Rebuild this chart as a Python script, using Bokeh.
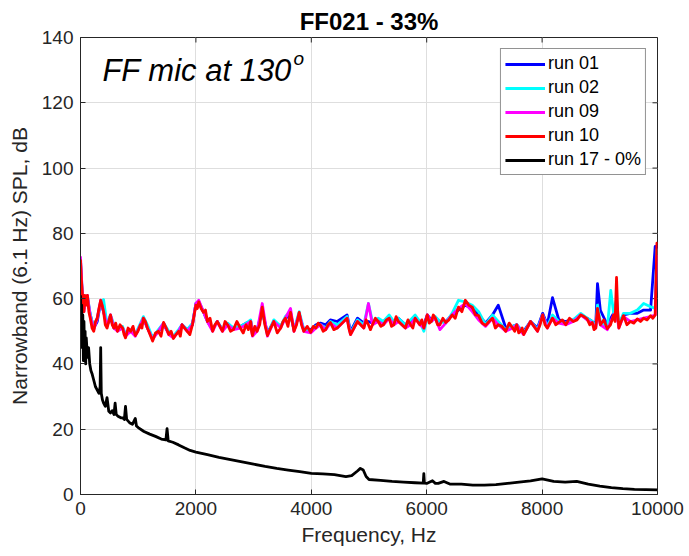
import math
from bokeh.plotting import figure
from bokeh.models import FixedTicker, Label, Range1d
from bokeh.embed import file_html
from bokeh.resources import INLINE

# ---------------- data ----------------
x_min, x_max = 0, 10000
y_min, y_max = 0, 140
x_ticks = [0, 2000, 4000, 6000, 8000, 10000]
y_ticks = [0, 20, 40, 60, 80, 100, 120, 140]

freq_runs = [
    0, 30, 60, 90, 120, 170, 230, 290, 350, 400,
    460, 520, 580, 640, 730, 780, 870, 950, 1040, 1090,
    1160, 1250, 1350, 1440, 1530, 1610, 1700, 1760, 1850, 1940,
    2000, 2050, 2130, 2200, 2290, 2370, 2460, 2550, 2650, 2770,
    2870, 2950, 2980, 3060, 3150, 3240, 3350, 3470, 3550, 3640,
    3700, 3790, 3870, 3990, 4080, 4160, 4250, 4330, 4450, 4620,
    4680, 4800, 4910, 4990, 5060, 5160, 5250, 5350, 5430, 5510,
    5630, 5720, 5800, 5880, 5950, 6010, 6080, 6150, 6230, 6330,
    6440, 6550, 6670, 6790, 6900, 7020, 7140, 7240, 7370, 7490,
    7560, 7630, 7680, 7800, 7920, 8010, 8090, 8180, 8290, 8410,
    8540, 8670, 8780, 8870, 8930, 8960, 9010, 9130, 9190, 9240,
    9290, 9330, 9410, 9530, 9650, 9760, 9880, 9960, 9990, 10000]

spl_run01 = [
    71, 61, 57, 59, 60, 55, 51, 53, 59, 56,
    52, 54, 51, 50.5, 51, 49, 50, 49, 52, 54,
    51, 48, 50, 52, 49.5, 48.5, 50, 52, 50.5, 52,
    58.5, 59, 56, 53, 50.5, 53, 50.5, 52, 51, 51.5,
    52.5, 53, 49.5, 50.5, 56, 49.5, 53, 51.5, 54, 55,
    50.5, 55, 50.5, 50.5, 52, 52.5, 52, 53.5, 53, 55,
    50, 54, 52.5, 53, 52.5, 53, 53, 54.5, 53, 54,
    52, 53, 54.5, 53, 52, 55, 53.5, 54, 53, 53,
    55, 56.5, 58, 57, 55, 52.5, 55, 58, 51, 51.5,
    52, 50.5, 50, 53, 51, 55.5, 52, 60.3, 53.5, 53,
    53.5, 55, 54, 53, 52, 64.6, 56.4, 52, 54, 55.5,
    56, 52, 55, 55.5, 55.5, 56.5, 56.5, 76, 76, 75]

spl_run02 = [
    72, 62, 57, 60, 61, 55, 51, 54, 59, 59.7,
    52, 55, 52, 51, 51.5, 49, 50.5, 49, 52.5, 54.5,
    52, 48, 50.5, 52.5, 50, 48.5, 50.5, 52, 50.5, 52.5,
    58.5, 59, 56, 53.5, 50.5, 53, 50.5, 52.5, 51, 51.5,
    52.5, 53.5, 49, 50.5, 56.5, 49, 53.5, 51.5, 54.5, 56,
    50.5, 56, 50.5, 50, 51.5, 52, 51, 53, 52, 54.5,
    49.5, 53.5, 52, 58.5, 53, 54, 53, 55, 53, 54,
    52, 53.5, 55, 53, 50, 54, 53, 54.5, 53, 52.5,
    55.5, 59.5, 59, 58, 56, 52, 55, 53, 50.5, 51.5,
    52, 50.5, 49.5, 53, 50.5, 55, 51.5, 55, 53, 52.5,
    53.5, 55.5, 54, 53, 51.5, 58, 53, 51, 62.5, 55.5,
    60, 52, 55.5, 55.5, 56.5, 58.5, 57.5, 57, 75, 74]

spl_run09 = [
    73, 62, 56, 60, 61, 54.5, 50.5, 54, 59.5, 56,
    51.5, 55, 51, 50, 51, 48.5, 50, 48.5, 52, 54,
    51, 47.5, 50, 52.5, 49, 48, 50, 52, 50, 52,
    58.5, 59.5, 56, 53, 50, 53, 50, 52, 50.5, 51,
    52, 53, 48.5, 50, 58.5, 48.5, 53, 51, 54, 57,
    50, 55.5, 50, 49.5, 51, 52, 50.5, 52.5, 51, 54,
    49, 53, 51, 58.5, 52, 53, 52, 54, 52, 53,
    51, 52, 54, 52, 51, 55, 53, 54, 50.5, 52.5,
    55, 57, 58.5, 56, 53.5, 51.5, 54, 52, 50, 51,
    52, 50, 49, 53, 50, 55, 51, 54, 52.5, 52,
    53, 55, 53.5, 52.5, 51, 56, 52, 50.5, 53, 55,
    56, 51, 54.5, 53, 53.5, 54, 54.5, 55, 73, 72]

freq_run10 = [
    0, 15, 30, 45, 60, 75, 90, 105, 120, 145,
    170, 200, 230, 260, 290, 320, 350, 375, 400, 430,
    460, 490, 520, 550, 580, 610, 640, 685, 730, 755,
    780, 825, 870, 910, 950, 995, 1040, 1065, 1090, 1125,
    1160, 1205, 1250, 1300, 1350, 1395, 1440, 1485, 1530, 1570,
    1610, 1655, 1700, 1730, 1760, 1805, 1850, 1895, 1940, 1970,
    2000, 2025, 2050, 2090, 2130, 2165, 2200, 2245, 2290, 2330,
    2370, 2415, 2460, 2505, 2550, 2600, 2650, 2710, 2770, 2820,
    2870, 2910, 2950, 2965, 2980, 3020, 3060, 3105, 3150, 3195,
    3240, 3295, 3350, 3410, 3470, 3510, 3550, 3595, 3640, 3670,
    3700, 3745, 3790, 3830, 3870, 3930, 3990, 4035, 4080, 4120,
    4160, 4205, 4250, 4290, 4330, 4390, 4450, 4535, 4620, 4650,
    4680, 4740, 4800, 4855, 4910, 4950, 4990, 5025, 5060, 5110,
    5160, 5205, 5250, 5300, 5350, 5390, 5430, 5470, 5510, 5570,
    5630, 5675, 5720, 5760, 5800, 5840, 5880, 5915, 5950, 5980,
    6010, 6045, 6080, 6115, 6150, 6190, 6230, 6280, 6330, 6385,
    6440, 6495, 6550, 6610, 6670, 6730, 6790, 6845, 6900, 6960,
    7020, 7080, 7140, 7190, 7240, 7305, 7370, 7430, 7490, 7525,
    7560, 7595, 7630, 7655, 7680, 7740, 7800, 7860, 7920, 7965,
    8010, 8050, 8090, 8135, 8180, 8235, 8290, 8350, 8410, 8475,
    8540, 8605, 8670, 8725, 8780, 8825, 8870, 8900, 8930, 8960,
    9010, 9070, 9130, 9185, 9240, 9265, 9290, 9310, 9330, 9370,
    9410, 9470, 9530, 9590, 9650, 9705, 9760, 9820, 9880, 9920,
    9960, 9990, 10000]

spl_run10 = [
    72, 66, 62, 57, 56, 61, 60, 58, 61, 56,
    54, 51, 50, 53, 54, 57, 59.5, 58, 56, 52,
    51, 53, 55, 52, 51, 52.5, 50, 52, 51, 49,
    48, 51, 50, 51.5, 48.7, 50, 52, 51, 54, 53,
    51, 49, 47, 49.5, 50, 48.5, 52.7, 51, 49, 50,
    47.8, 49, 50, 48.5, 52, 51, 50, 49, 52, 55,
    58, 57, 59, 57, 55.8, 56.5, 53, 54, 50, 52,
    53, 51.5, 50, 53, 52, 50, 50.5, 53, 51, 49.5,
    52, 50.5, 53, 50, 48.7, 51.5, 50, 52, 57.4, 52,
    48.7, 51, 53, 49.5, 51, 53, 54, 51.5, 55.8, 53,
    50, 52, 55.8, 52, 50, 51.5, 49.7, 51.5, 51, 52.5,
    51.8, 50, 50.5, 52, 52.7, 50.5, 51, 52.5, 54, 51,
    49, 51, 53, 52, 51, 53.5, 52, 50.5, 52, 54,
    53, 51.5, 52, 53.5, 54, 51.5, 52, 54.5, 53, 52,
    51, 53.5, 52, 51, 54, 53, 52, 53.5, 51, 53,
    55, 52.5, 53, 55, 54, 52, 52, 54, 52.7, 53.5,
    55, 54, 57.4, 56, 59.5, 58, 57.4, 55, 54.8, 52.5,
    51.8, 53, 54, 51, 52, 51.5, 50, 52.5, 51, 50,
    52, 49.5, 50, 51, 49, 51, 53, 51.5, 50, 52,
    55, 52, 51, 52.5, 54, 52, 52.7, 53.5, 52, 54,
    53, 53.5, 55, 54.5, 53.8, 52, 52.7, 50.5, 51, 57,
    52, 53.5, 50.8, 52, 55, 53, 66.5, 56, 51, 53,
    54.8, 52, 53, 52.5, 53.8, 53, 54, 53.5, 54.8, 54,
    55, 77, 76]

freq_run17 = [
    0, 10, 20, 30, 40, 50, 60, 70, 80, 90,
    100, 120, 140, 160, 180, 200, 230, 260, 290, 320,
    340, 350, 360, 380, 400, 430, 460, 490, 520, 550,
    580, 600, 620, 650, 700, 730, 760, 780, 800, 850,
    900, 950, 970, 1000, 1100, 1200, 1300, 1400, 1480, 1500,
    1520, 1600, 1700, 1800, 1900, 2000, 2200, 2400, 2600, 2800,
    3000, 3200, 3400, 3600, 3800, 4000, 4200, 4400, 4600, 4700,
    4800, 4850, 4900, 4950, 5000, 5200, 5400, 5600, 5800, 5940,
    5950, 5960, 6000, 6100, 6150, 6200, 6300, 6400, 6600, 6800,
    7000, 7200, 7400, 7600, 7800, 8000, 8100, 8200, 8400, 8600,
    8800, 9000, 9200, 9400, 9600, 9800, 10000]

spl_run17 = [
    61, 52, 58, 45, 55, 41, 53, 44, 50, 40,
    48, 42, 45, 40, 38, 37, 35, 33, 32, 31,
    33, 45, 31, 29, 28, 27, 29.7, 25.5, 25, 25.7,
    24.5, 28, 24.5, 24, 23.5, 23.5, 23, 27, 23, 22,
    21.5, 23.3, 21, 20.5, 19.3, 18.5, 17.8, 17, 16.7, 20.2,
    16.4, 16, 15.2, 14.3, 13.5, 13, 12.2, 11.4, 10.7, 10,
    9.3, 8.6, 8, 7.5, 7, 6.5, 6.3, 6.1, 5.5, 5.8,
    7.2, 8, 7.5, 5.5, 4.6, 4.3, 4, 3.8, 3.6, 3.5,
    6.4, 3.5, 3.4, 4.2, 3.4, 3.4, 4.0, 3.2, 3.2, 2.9,
    2.9, 3.0, 3.4, 3.8, 4.2, 4.8, 4.4, 4.0, 3.8, 4.0,
    3.2, 2.6, 2.1, 1.8, 1.6, 1.5, 1.4]

series_names = ["run 01", "run 02", "run 09", "run 10", "run 17 - 0%"]
series_colors = ["#0000ff", "#00ffff", "#ff00ff", "#ff0000", "#000000"]

FONT = "Liberation Sans"
AX = "#262626"

# ---------------- figure ----------------
p = figure(width=689, height=556, output_backend="svg", toolbar_location=None,
           x_range=Range1d(x_min, x_max), y_range=Range1d(y_min, y_max),
           min_border_left=80, min_border_right=32, min_border_top=37,
           min_border_bottom=62, background_fill_color="white",
           border_fill_color="white")

p.title.text = "FF021 - 33%"
p.title.align = "center"
p.title.text_font = FONT
p.title.text_font_size = "24px"
p.title.text_font_style = "bold"
p.title.text_color = "#000000"
p.title.standoff = 6

p.outline_line_color = AX
p.outline_line_width = 1

for ax, ticks in ((p.xaxis[0], x_ticks), (p.yaxis[0], y_ticks)):
    ax.ticker = FixedTicker(ticks=ticks)
    ax.axis_line_color = AX
    ax.major_tick_line_color = AX
    ax.major_tick_in = 5
    ax.major_tick_out = 0
    ax.minor_tick_line_color = None
    ax.major_label_text_font = FONT
    ax.major_label_text_font_size = "19px"
    ax.major_label_text_color = AX
    ax.major_label_standoff = 7
    ax.axis_label_text_font = FONT
    ax.axis_label_text_font_size = "21px"
    ax.axis_label_text_font_style = "normal"
    ax.axis_label_text_color = AX

p.xaxis.axis_label = "Frequency, Hz"
p.yaxis.axis_label = "Narrowband (6.1 Hz) SPL, dB"
p.xaxis.axis_label_standoff = 5
p.yaxis.axis_label_standoff = 8

p.xgrid.ticker = FixedTicker(ticks=x_ticks)
p.ygrid.ticker = FixedTicker(ticks=y_ticks)
p.grid.grid_line_color = "#dedede"
p.grid.grid_line_width = 1

# inward box ticks on the top and right edges (MATLAB style), 5 px long
p.ray(x=x_ticks, y=[y_max] * len(x_ticks), length=5, length_units="screen",
      angle=-math.pi / 2, line_color=AX, line_width=1)
p.ray(x=[x_max] * len(y_ticks), y=y_ticks, length=5, length_units="screen",
      angle=math.pi, line_color=AX, line_width=1)

# ---------------- lines ----------------
series = [(freq_runs, spl_run01), (freq_runs, spl_run02), (freq_runs, spl_run09),
          (freq_run10, spl_run10), (freq_run17, spl_run17)]
for (fx, fy), name, col in zip(series, series_names, series_colors):
    p.line(fx, fy, line_color=col, line_width=2.8, legend_label=name,
           line_join="round")

# ---------------- legend ----------------
lg = p.legend[0]
lg.location = "top_right"
lg.margin = 11
lg.padding = 4
lg.spacing = 3
lg.glyph_width = 40
lg.glyph_height = 20
lg.label_height = 20
lg.label_standoff = 3
lg.label_text_font = FONT
lg.label_text_font_size = "18px"
lg.label_text_color = "#000000"
lg.border_line_color = AX
lg.border_line_width = 1
lg.background_fill_color = "white"
lg.background_fill_alpha = 1

# ---------------- annotation ----------------
ann = Label(x=380, y=130, text="FF mic at 130", text_font=FONT,
            text_font_size="31px", text_font_style="italic",
            text_color="#000000", text_baseline="alphabetic")
sup = Label(x=380, y=130, x_offset=191, y_offset=12, text="o", text_font=FONT,
            text_font_size="19px", text_font_style="italic",
            text_color="#000000", text_baseline="alphabetic")
p.add_layout(ann)
p.add_layout(sup)

open("out.html", "w").write(file_html(p, INLINE))
